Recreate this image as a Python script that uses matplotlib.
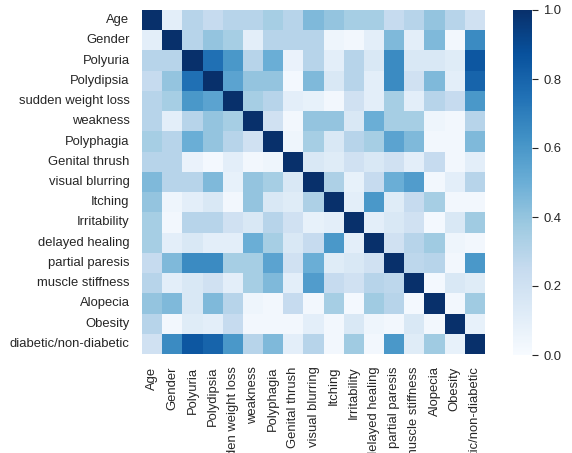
import numpy as np
import pandas as pd
import matplotlib
matplotlib.use("Agg")
import matplotlib.pyplot as plt
import seaborn as sns

labels = ["Age", "Gender", "Polyuria", "Polydipsia", "sudden weight loss",
          "weakness", "Polyphagia", "Genital thrush", "visual blurring",
          "Itching", "Irritability", "delayed healing", "partial paresis",
          "muscle stiffness", "Alopecia", "Obesity", "diabetic/non-diabetic"]

# upper triangle of the correlation matrix, one list per row (values right of the diagonal)
age_row = [0.10, 0.30, 0.25, 0.30, 0.30, 0.35, 0.30, 0.45, 0.40, 0.35, 0.35, 0.25, 0.30, 0.40, 0.30, 0.20]
gender_row = [0.30, 0.40, 0.35, 0.10, 0.30, 0.30, 0.30, 0.05, 0.03, 0.10, 0.45, 0.10, 0.45, 0.03, 0.65]
polyuria_row = [0.75, 0.60, 0.30, 0.50, 0.07, 0.30, 0.10, 0.30, 0.15, 0.65, 0.15, 0.15, 0.12, 0.85]
polydipsia_row = [0.55, 0.40, 0.40, 0.02, 0.45, 0.15, 0.30, 0.10, 0.65, 0.20, 0.45, 0.10, 0.80]
weight_loss_row = [0.35, 0.30, 0.10, 0.08, 0.03, 0.20, 0.10, 0.35, 0.10, 0.30, 0.25, 0.60]
weakness_row = [0.20, 0.03, 0.40, 0.40, 0.15, 0.50, 0.35, 0.35, 0.05, 0.03, 0.30]
polyphagia_row = [0.05, 0.35, 0.15, 0.30, 0.35, 0.55, 0.45, 0.03, 0.03, 0.45]
thrush_row = [0.15, 0.12, 0.20, 0.15, 0.20, 0.10, 0.25, 0.03, 0.10]
blurring_row = [0.33, 0.08, 0.25, 0.50, 0.58, 0.03, 0.10, 0.30]
itching_row = [0.10, 0.60, 0.12, 0.25, 0.35, 0.03, 0.03]
irritability_row = [0.10, 0.15, 0.20, 0.02, 0.15, 0.37]
healing_row = [0.20, 0.30, 0.37, 0.05, 0.03]
paresis_row = [0.28, 0.30, 0.03, 0.60]
stiffness_row = [0.02, 0.15, 0.12]
alopecia_row = [0.03, 0.37]
obesity_row = [0.08]

upper = [age_row, gender_row, polyuria_row, polydipsia_row, weight_loss_row,
         weakness_row, polyphagia_row, thrush_row, blurring_row, itching_row,
         irritability_row, healing_row, paresis_row, stiffness_row,
         alopecia_row, obesity_row]

n = len(labels)
mat = np.eye(n)
for i, row in enumerate(upper):
    for k, v in enumerate(row):
        j = i + 1 + k
        mat[i, j] = v
        mat[j, i] = v
corr = pd.DataFrame(mat, index=labels, columns=labels)

plt.rcParams['font.family'] = ['Liberation Sans', 'DejaVu Sans']
plt.rcParams['text.color'] = '#262626'
plt.rcParams['xtick.color'] = '#262626'
plt.rcParams['ytick.color'] = '#262626'

fig = plt.figure(figsize=(5.72, 4.53), dpi=100)
ax = fig.add_axes([142 / 572, 1 - 354 / 453, 343 / 572, 344 / 453])
cax = fig.add_axes([513 / 572, 1 - 355 / 453, 19 / 572, 345 / 453])

sns.heatmap(corr, cmap='Blues', vmin=0, vmax=1, ax=ax, cbar_ax=cax)

ax.tick_params(axis='both', length=0, labelsize=9.4, pad=9)
ax.set_xticklabels(labels, rotation=90)
ax.set_yticklabels(labels, rotation=0)

cax.tick_params(axis='y', length=4, width=0.8, labelsize=9.4, pad=4, color='#262626')
cax.set_yticks([0.0, 0.2, 0.4, 0.6, 0.8, 1.0])
for s in cax.spines.values():
    s.set_visible(False)

fig.savefig('out.png', dpi=100)
